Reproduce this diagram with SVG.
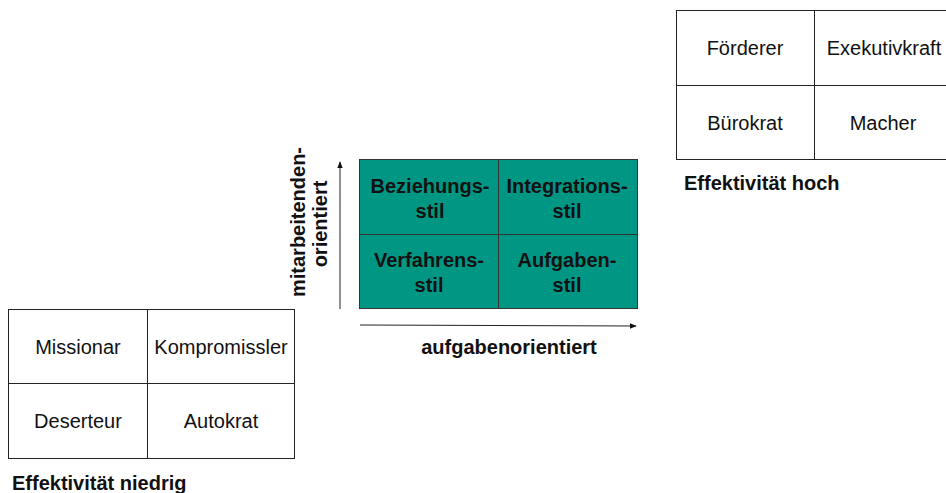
<svg xmlns="http://www.w3.org/2000/svg" width="946" height="493" viewBox="0 0 946 493">
<defs>
<style>
.cell{fill:#fff;stroke:#222;stroke-width:1}
.t{font-family:"Liberation Sans",Arial,sans-serif;font-size:20px;fill:#111;text-anchor:middle}
.b{font-family:"Liberation Sans",Arial,sans-serif;font-size:20px;font-weight:bold;fill:#111}
.g{fill:#009684;stroke:#333;stroke-width:1}
.ax{stroke:#222;stroke-width:1;fill:none}
</style>
<marker id="ah" viewBox="0 0 10 10" refX="9" refY="5" markerWidth="7" markerHeight="7" orient="auto"><path d="M0,1 L10,5 L0,9 z" fill="#111"/></marker>
</defs>
<rect width="946" height="493" fill="#fff"/>
<g id="high">
<rect class="cell" x="676.5" y="10.5" width="138" height="75"/>
<rect class="cell" x="814.5" y="10.5" width="140" height="75"/>
<rect class="cell" x="676.5" y="85.5" width="138" height="74"/>
<rect class="cell" x="814.5" y="85.5" width="140" height="74"/>
<text class="t" x="745" y="55">Förderer</text>
<text class="t" x="884" y="55">Exekutivkraft</text>
<text class="t" x="745" y="130">Bürokrat</text>
<text class="t" x="883" y="130">Macher</text>
<text class="b" x="684" y="190">Effektivität hoch</text>
</g>
<g id="center">
<rect class="g" x="359.5" y="159.5" width="139" height="75"/>
<rect class="g" x="498.5" y="159.5" width="139" height="75"/>
<rect class="g" x="359.5" y="234.5" width="139" height="74"/>
<rect class="g" x="498.5" y="234.5" width="139" height="74"/>
<text class="b" text-anchor="middle" x="430" y="193">Beziehungs-</text>
<text class="b" text-anchor="middle" x="430" y="218">stil</text>
<text class="b" text-anchor="middle" x="567" y="193">Integrations-</text>
<text class="b" text-anchor="middle" x="567" y="218">stil</text>
<text class="b" text-anchor="middle" x="429" y="267">Verfahrens-</text>
<text class="b" text-anchor="middle" x="429" y="292">stil</text>
<text class="b" text-anchor="middle" x="567" y="267">Aufgaben-</text>
<text class="b" text-anchor="middle" x="567" y="292">stil</text>
</g>
<g id="connectors">
<line class="ax" x1="340" y1="309" x2="340" y2="162" marker-end="url(#ah)"/>
<line class="ax" x1="360" y1="325" x2="636" y2="326" marker-end="url(#ah)"/>
</g>
<g id="axis-labels">
<text class="b" text-anchor="middle" transform="translate(305,222) rotate(-90)">mitarbeitenden-</text>
<text class="b" text-anchor="middle" transform="translate(327,224) rotate(-90)">orientiert</text>
<text class="b" text-anchor="middle" x="509" y="354">aufgabenorientiert</text>
</g>
<g id="low">
<rect class="cell" x="8.5" y="309.5" width="139" height="74"/>
<rect class="cell" x="147.5" y="309.5" width="147" height="74"/>
<rect class="cell" x="8.5" y="383.5" width="139" height="75"/>
<rect class="cell" x="147.5" y="383.5" width="147" height="75"/>
<text class="t" x="78" y="354">Missionar</text>
<text class="t" x="221" y="354">Kompromissler</text>
<text class="t" x="78" y="428">Deserteur</text>
<text class="t" x="221" y="428">Autokrat</text>
<text class="b" x="12" y="490">Effektivität niedrig</text>
</g>
</svg>
